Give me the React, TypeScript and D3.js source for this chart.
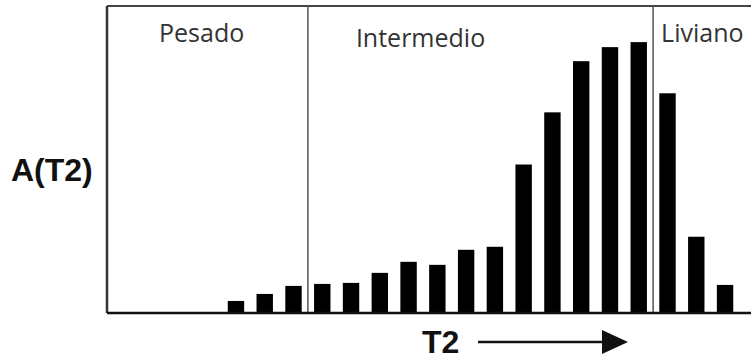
import React from 'react'
import * as d3 from 'd3'

// bin amplitudes, left (short T2) to right (long T2)
const bins = ['b1', 'b2', 'b3', 'b4', 'b5', 'b6', 'b7', 'b8', 'b9', 'b10', 'b11', 'b12', 'b13', 'b14', 'b15', 'b16', 'b17', 'b18']
const amplitudes = [12, 19, 27, 29, 30, 40, 51, 48, 63, 66, 148, 200, 251, 265, 270, 219, 76, 28]
const yMax = 306

// oil classes: label and first bin of each class
const classNames = ['Pesado', 'Intermedio', 'Liviano']
const classStart = [0, 3, 15]
const labelOffset = [52, 48, 8]
const labelBaseline = [42, 47, 42]

const W = 751
const H = 360
const frame = { left: 107, top: 6, bottom: 313, right: 770 }

export default function App() {
  const x = d3.scaleBand()
    .domain(bins)
    .range([222, 739])
    .paddingInner(0.43)
    .paddingOuter(0.2)
  const y = d3.scaleLinear().domain([0, yMax]).range([frame.bottom, frame.top])
  const step = x.step()
  const bw = x.bandwidth()

  // divider between classes sits half way in the gap between bars
  const dividers = classStart.slice(1).map(i => x(bins[i]) - (step - bw) / 2)
  const regionStart = [frame.left, ...dividers]

  const arrowY = 342
  return (
    <svg width={W} height={H} style={{ position: 'absolute', left: 0, top: 0, background: '#fff' }}>
      {amplitudes.map((a, i) => (
        <rect key={i} x={x(bins[i])} y={y(a)} width={bw} height={y(0) - y(a)} fill="#000" />
      ))}
      <line x1={frame.left} x2={frame.right} y1={frame.top} y2={frame.top} stroke="#444" strokeWidth={2} />
      <line x1={frame.left} x2={frame.left} y1={frame.top} y2={frame.bottom} stroke="#333" strokeWidth={2.5} />
      {dividers.map((d, i) => (
        <line key={i} x1={d} x2={d} y1={frame.top} y2={frame.bottom} stroke="#555" strokeWidth={1.5} />
      ))}
      <line x1={frame.left} x2={frame.right} y1={frame.bottom} y2={frame.bottom} stroke="#111" strokeWidth={2.5} />
      {classNames.map((n, i) => (
        <text key={n} x={regionStart[i] + labelOffset[i]} y={labelBaseline[i]}
          fontFamily="'Open Sans', sans-serif" fontSize={25} fill="#333">{n}</text>
      ))}
      <text x={11} y={181} fontFamily="'Liberation Sans', Arial, sans-serif" fontWeight="bold" fontSize={32} fill="#111">A(T2)</text>
      <text x={422} y={353} fontFamily="'Liberation Sans', Arial, sans-serif" fontWeight="bold" fontSize={32} fill="#111">T2</text>
      <line x1={478} x2={606} y1={arrowY} y2={arrowY} stroke="#111" strokeWidth={2.5} />
      <path d={`M602,${arrowY - 12}L628,${arrowY}L602,${arrowY + 12}Z`} fill="#111" />
    </svg>
  )
}
